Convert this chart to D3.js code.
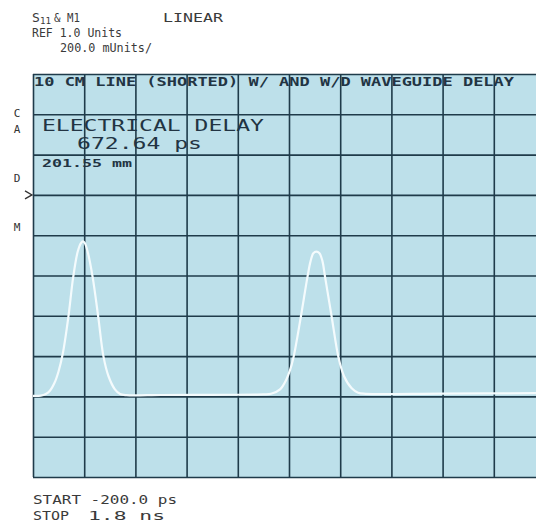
<!DOCTYPE html>
<html>
<head>
<meta charset="utf-8">
<script src="https://cdn.jsdelivr.net/npm/d3@7"></script>
<style>
  html, body { margin: 0; padding: 0; background: #fff; }
  svg { display: block; }
  text { font-family: "DejaVu Sans Mono", monospace; }
</style>
</head>
<body>
<div id="chart"></div>
<script>
// time axis: START -200 ps, STOP 1.8 ns, 200 ps / div
const xGridPs = [-200, 0, 200, 400, 600, 800, 1000, 1200, 1400, 1600, 1800];
// magnitude axis: REF 1.0 Units, 200 mUnits / div
const yGridUnits = [-0.4, -0.2, 0, 0.2, 0.4, 0.6, 0.8, 1.0, 1.2, 1.4, 1.6];
const refLevel = 1.0;

// S11 trace (time in ps, linear magnitude in Units)
const traceTimePs = [
  -200, -170, -150, -134, -115, -100, -84, -62, -43, -25, -12, -5, 2, 15, 33, 55, 75, 95, 120, 140, 165,
  300, 500, 700, 730, 765, 790, 804, 817, 846, 872, 885, 895, 907, 919, 930, 941, 967, 993, 1015, 1045, 1070,
  1100, 1400, 1800
];
const traceUnits = [
  0.003, 0.004, 0.012, 0.028, 0.07, 0.125, 0.21, 0.393, 0.592, 0.72, 0.762, 0.769, 0.762, 0.71, 0.592, 0.393, 0.2, 0.1, 0.035, 0.012, 0.006,
  0.007, 0.008, 0.01, 0.013, 0.035, 0.085, 0.13, 0.19, 0.393, 0.592, 0.675, 0.71, 0.718, 0.71, 0.675, 0.592, 0.393, 0.195, 0.1, 0.04, 0.018,
  0.013, 0.014, 0.016
];

const sideLetters = ["C", "A", "D", "M"];
const sideLetterY = [117, 133, 182, 231];

const width = 536;
const height = 523;
const plot = { left: 33, right: 545, top: 74, bottom: 477 };

const svg = d3.select("#chart").append("svg")
  .attr("width", width)
  .attr("height", height);

svg.append("rect")
  .attr("width", width)
  .attr("height", height)
  .attr("fill", "#ffffff");

const xScale = d3.scaleLinear()
  .domain([-200, 1800])
  .range([plot.left, plot.right]);

const yScale = d3.scaleLinear()
  .domain([-0.4, 1.6])
  .range([plot.bottom, plot.top]);

// screen background
svg.append("rect")
  .attr("x", plot.left)
  .attr("y", plot.top)
  .attr("width", plot.right - plot.left)
  .attr("height", plot.bottom - plot.top)
  .attr("fill", "#bde0ea");

const gridColor = "#1f3b4a";

// graticule {vertical lines -> horizontal lines}
const xGrid = svg.append("g")
  .attr("transform", `translate(0, ${plot.bottom})`)
  .call(d3.axisBottom(xScale)
    .tickValues(xGridPs)
    .tickSize(-(plot.bottom - plot.top))
    .tickFormat(""));
xGrid.select(".domain").remove();
xGrid.selectAll("line").attr("stroke", gridColor).attr("stroke-width", 1.6);

const yGrid = svg.append("g")
  .attr("transform", `translate(${plot.left}, 0)`)
  .call(d3.axisLeft(yScale)
    .tickValues(yGridUnits)
    .tickSize(-(plot.right - plot.left))
    .tickFormat(""));
yGrid.select(".domain").remove();
yGrid.selectAll("line").attr("stroke", gridColor).attr("stroke-width", 1.6);

// trace
const points = traceTimePs.map((t, i) => ({ t, v: traceUnits[i] }));
const line = d3.line()
  .x(d => xScale(d.t))
  .y(d => yScale(d.v))
  .curve(d3.curveCatmullRom.alpha(0.5));

svg.append("path")
  .datum(points)
  .attr("d", line)
  .attr("fill", "none")
  .attr("stroke", "#f4fbfd")
  .attr("stroke-width", 2.2)
  .attr("stroke-linejoin", "round");

// reference marker
const refY = yScale(refLevel);
svg.append("path")
  .attr("d", `M${plot.left - 8},${refY - 4} L${plot.left - 1},${refY} L${plot.left - 8},${refY + 4}`)
  .attr("fill", "none")
  .attr("stroke", "#333")
  .attr("stroke-width", 1.3);

// left status letters
svg.selectAll(".side")
  .data(sideLetters)
  .join("text")
  .attr("class", "side")
  .attr("x", 17)
  .attr("y", (d, i) => sideLetterY[i])
  .attr("text-anchor", "middle")
  .attr("font-size", "11px")
  .attr("fill", "#333")
  .text(d => d);

// header lines
const textColor = "#3a3a3a";
const addText = (str, x, y, size, len, color, weight) => {
  const t = svg.append("text")
    .attr("x", x)
    .attr("y", y)
    .attr("font-size", size + "px")
    .attr("fill", color || textColor)
    .attr("font-weight", weight || "normal")
    .text(str);
  if (len) t.attr("textLength", len).attr("lengthAdjust", "spacingAndGlyphs");
  return t;
};

addText("S", 32, 22, 13, null);
addText("11", 40, 23.5, 8, 11);
addText("& M1", 54, 22, 13, 26);
addText("LINEAR", 163, 22, 13, 60);
addText("REF 1.0 Units", 32, 37, 12, 90);
addText("200.0 mUnits/", 60, 52, 12, 92);

// screen annotations
const screenText = "#223443";
addText("10 CM LINE (SHORTED) W/ AND W/D WAVEGUIDE DELAY", 34, 86, 13, 480, screenText, "bold");
addText("ELECTRICAL DELAY", 42, 131, 15, 222, screenText);
addText("672.64 ps", 77, 149, 15, 125, screenText);
addText("201.55 mm", 42, 167, 10, 90, screenText, "bold");

// footer
addText("START -200.0 ps", 33, 504, 12, 144);
addText("STOP", 33, 520, 12, 36);
addText("1.8 ns", 88, 520, 12, 77);
</script>
</body>
</html>
